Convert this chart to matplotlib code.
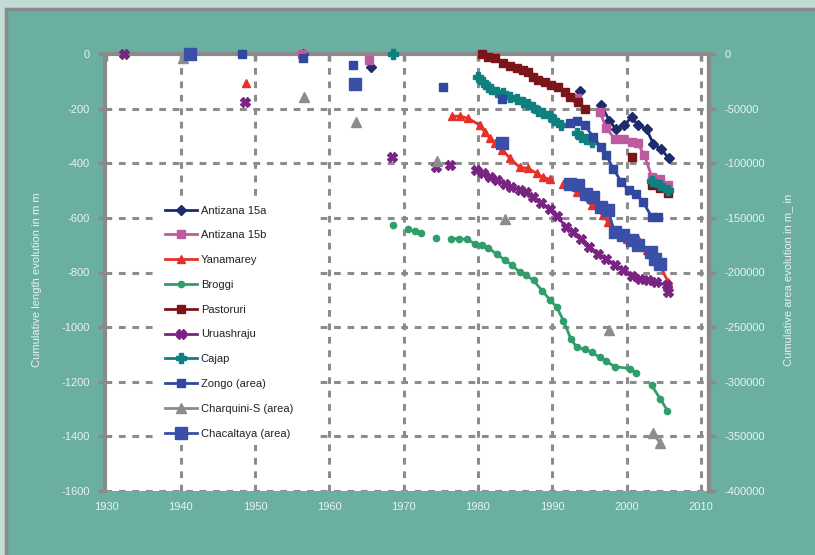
import numpy as np
import matplotlib
matplotlib.use("Agg")
import matplotlib.pyplot as plt
from matplotlib.patches import Rectangle

plt.rcParams["font.family"] = ["Liberation Sans", "DejaVu Sans"]

nan = np.nan

# ---- data (length series, m) ----
antizana15a_x = [1956.4, nan, 1965.6, nan, 1993.7, nan, 1996.6, 1997.7, 1998.6, 1999.7, 2000.7, 2001.5, 2002.7, 2003.6, 2004.7, 2005.7]
antizana15a_y = [0, nan, -47, nan, -134, nan, -186, -244, -275, -260, -229, -260, -274, -329, -349, -382]

antizana15b_x = [1956.3, nan, 1965.3, nan, 1993.3, nan, 1996.4, 1997.3, 1998.5, 1999.5, 2000.7, 2001.5, 2002.4, 2003.4, 2004.5, 2005.6]
antizana15b_y = [0, nan, -21, nan, -162, nan, -211, -272, -312, -311, -321, -327, -370, -449, -459, -480]

yanamarey_x = [1948.8, nan, 1976.5, 1977.6, 1978.6, 1980.3, 1980.9, 1981.6, 1982.3, 1983.3, 1984.3, 1985.6, 1986.7, 1987.9, 1988.7, 1989.7, nan,
               1991.5, 1993.3, 1995.3, 1996.8, 1997.5, 1998.6, 2000.0, 2001.5, 2002.7, 2003.6, 2004.5, 2005.6]
yanamarey_y = [-106, nan, -227, -227, -234, -260, -285, -307, -326, -351, -381, -414, -418, -436, -451, -458, nan,
               -474, -505, -553, -590, -615, -657, -676, -676, -719, -743, -774, -835]

broggi_x = [1968.6, nan, 1970.6, 1971.5, 1972.4, nan, 1974.4, nan, 1976.4, 1977.5, 1978.5, 1979.6, 1980.5, 1981.4, 1982.5, 1983.6, 1984.6,
            1985.6, 1986.5, 1987.5, 1988.6, 1989.7, 1990.6, 1991.5, 1992.5, 1993.3, 1994.4, 1995.3, 1996.4, 1997.3, 1998.4,
            2000.4, 2001.3, nan, 2003.4, 2004.5, 2005.5]
broggi_y = [-627, nan, -642, -649, -654, nan, -672, nan, -676, -676, -679, -694, -700, -709, -733, -753, -774,
            -798, -810, -829, -866, -900, -927, -976, -1043, -1074, -1082, -1093, -1111, -1126, -1145,
            -1152, -1167, nan, -1214, -1262, -1306]

pastoruri_x = [1980.5, 1981.4, 1982.3, 1983.4, 1984.3, 1985.2, 1986.1, 1986.7, 1987.4, 1988.1, 1989.0, 1989.9, 1990.8, 1991.7,
               1992.4, 1993.5, 1994.4, nan, 2000.7, nan, 2003.4, 2004.5, 2005.6]
pastoruri_y = [0, -9, -15, -33, -43, -51, -58, -66, -82, -94, -101, -113, -119, -137,
               -156, -174, -202, nan, -378, nan, -480, -492, -510]

uruashraju_x = [1932.3, nan, 1948.6, nan, 1968.4, nan, 1974.3, nan, 1976.3, nan,
                1979.8, 1980.7, 1981.6, 1982.5, 1983.6, 1984.5, 1985.6, 1986.5, 1987.4, 1988.5, 1989.7, 1990.6, 1991.9,
                1992.8, 1993.9, 1995.0, 1996.2, 1997.3, 1998.4, 1999.5, 2000.7, 2001.8, 2002.9, 2004.0, 2005.4, 2005.6]
uruashraju_y = [0, nan, -176, nan, -378, nan, -414, nan, -407, nan,
                -425, -437, -450, -462, -474, -486, -496, -505, -523, -547, -569, -594, -633,
                -651, -676, -707, -731, -749, -774, -792, -811, -823, -829, -835, -847, -872]

cajap_x = [1968.5, nan, 1980.0, 1980.7, 1981.4, 1981.8, 1982.5, 1983.4, 1984.3, 1985.2, 1986.1, 1986.7, 1987.4, 1988.1, 1988.8,
           1989.7, 1990.3, 1991.2, nan, 1993.3, 1993.9, 1994.6, 1995.3, nan, 2003.4, 2004.5, 2005.6]
cajap_y = [0, nan, -82, -101, -119, -129, -137, -143, -156, -165, -174, -184, -192, -207, -217,
           -227, -241, -260, nan, -288, -303, -312, -321, nan, -464, -480, -498]

# ---- data (area series, m2) ----
zongo_x = [1948.3, nan, 1956.4, nan, 1963.2, nan, 1975.3, nan, 1983.3, nan,
           1992.4, 1993.3, 1994.4, 1995.5, 1996.5, 1997.3, 1998.2, 1999.3, 2000.3, 2001.3, 2002.2, 2003.4, 2004.2]
zongo_y = [0, nan, -3700, nan, -10000, nan, -30000, nan, -41000, nan,
           -63300, -61000, -65000, -75700, -84800, -92500, -104700, -117000, -124600, -127600, -135300, -149100, -149100]

charquini_x = [1940.3, nan, 1956.6, nan, 1963.6, nan, 1974.5, nan, 1983.6, nan, 1997.6, nan, 2003.5, 2004.5]
charquini_y = [-3000, nan, -39000, nan, -62000, nan, -98000, nan, -151000, nan, -253000, nan, -347000, -356000]

chacaltaya_x = [1941.2, nan, 1963.4, nan, 1983.3, nan,
                1992.4, 1993.5, 1994.6, 1995.5, 1996.5, 1997.5, 1998.4, 1999.5, 2000.7, 2001.5, 2003.3, 2003.8, 2004.5]
chacaltaya_y = [0, nan, -27500, nan, -81500, nan,
                -118500, -120000, -127600, -130700, -139900, -143000, -162900, -165900, -170500, -175100, -181200, -187300, -191900]

x_ticks = [1930, 1940, 1950, 1960, 1970, 1980, 1990, 2000, 2010]
y_ticks = [0, -200, -400, -600, -800, -1000, -1200, -1400, -1600]
y2_ticks = [0, -50000, -100000, -150000, -200000, -250000, -300000, -350000, -400000]

# ---- figure ----
W, H = 815, 555
fig = plt.figure(figsize=(W / 100, H / 100), dpi=100, facecolor="#c2dcd5")
bg = Rectangle((5.5 / W, -0.02), 1.1, (H - 8.5) / H + 0.02, transform=fig.transFigure,
               facecolor="#6aafa2", edgecolor="#8a8a8a", linewidth=2.5, zorder=-10)
fig.patches.append(bg)

ax = fig.add_axes([105 / W, 1 - 490.7 / H, (709 - 105) / W, (490.7 - 54.3) / H])
ax.set_zorder(1)
ax.set_facecolor("white")
ax.set_xlim(1929.8, 2011.1)
ax.set_ylim(-1600, 0)

grid_kw = dict(color="#8c8c8c", linewidth=2.2, linestyle=(0, (2.2, 2.2)), zorder=1)
for yt in y_ticks[1:]:
    ax.axhline(yt, **grid_kw)
for xt in x_ticks[1:]:
    ax.axvline(xt, **grid_kw)

# white box behind the legend hides the grid there
ax.add_patch(Rectangle((156 / W, 1 - 445 / H), (315 - 156) / W, (445 - 197) / H,
                       transform=fig.transFigure, facecolor="white", edgecolor="none", zorder=1.5))

ax.spines["bottom"].set_visible(False)
for s in ["left", "right", "top"]:
    ax.spines[s].set_color("#8a8a8a")
    ax.spines[s].set_linewidth(3)

txtc = "#e8f3f0"
fs = 8
ax.set_xticks(x_ticks)
ax.set_xticklabels([str(t) for t in x_ticks])
ax.tick_params(axis="x", top=True, bottom=False, labeltop=False, labelbottom=True, direction="in",
               length=5, width=2.5, color="#8a8a8a", labelsize=fs, labelcolor=txtc, pad=8)
ax.set_yticks(y_ticks)
ax.set_yticklabels([str(t) for t in y_ticks])
ax.tick_params(axis="y", direction="out", length=5, width=2.5, color="#8a8a8a",
               labelsize=fs, labelcolor=txtc, pad=6)
ax.set_ylabel("Cumulative length evolution in m m", color=txtc, fontsize=fs)
ax.yaxis.set_label_coords(-0.105, 0.483)

ax2 = ax.twinx()
ax2.set_zorder(2)
ax2.patch.set_visible(False)
ax2.set_ylim(-400000, 0)
ax2.set_yticks(y2_ticks)
ax2.set_yticklabels([str(t) for t in y2_ticks])
ax2.tick_params(axis="y", direction="out", length=5, width=2.5, color="#8a8a8a",
                labelsize=fs, labelcolor=txtc, pad=6)
for s in ["left", "top", "bottom"]:
    ax2.spines[s].set_visible(False)
ax2.spines["right"].set_color("#8a8a8a")
ax2.spines["right"].set_linewidth(3)
ax2.set_ylabel("Cumulative area evolution in m_ in", color=txtc, fontsize=fs)
ax2.yaxis.set_label_coords(1.122, 0.483)

handles = []
def pl(a, x, y, label, color, marker, ms, lw=2.0, **kw):
    h, = a.plot(x, y, color=color, marker=marker, markersize=ms, linewidth=lw,
                label=label, zorder=3, clip_on=False, **kw)
    handles.append(h)

pl(ax, antizana15a_x, antizana15a_y, "Antizana 15a", "#1e2b6c", "D", 5.5)
pl(ax, antizana15b_x, antizana15b_y, "Antizana 15b", "#c05a9f", "s", 5.5)
pl(ax, yanamarey_x, yanamarey_y, "Yanamarey", "#e8302a", "^", 5.5)
pl(ax, broggi_x, broggi_y, "Broggi", "#2f9e6b", "o", 4.5)
pl(ax, pastoruri_x, pastoruri_y, "Pastoruri", "#7c1518", "s", 6)
pl(ax, uruashraju_x, uruashraju_y, "Uruashraju", "#7a2382", "X", 7)
pl(ax, cajap_x, cajap_y, "Cajap", "#0f7f80", "P", 7)
pl(ax2, zongo_x, zongo_y, "Zongo (area)", "#3048a0", "s", 6)
pl(ax2, charquini_x, charquini_y, "Charquini-S (area)", "#8c8c8c", "^", 6.5)
pl(ax2, chacaltaya_x, chacaltaya_y, "Chacaltaya (area)", "#3a4fa8", "s", 8)

leg = ax2.legend(handles=handles, loc="upper left", bbox_to_anchor=(159 / W, 1 - 200 / H),
                 bbox_transform=fig.transFigure, frameon=False, fontsize=fs,
                 labelspacing=1.33, handlelength=2.95, handletextpad=0.3, borderpad=0)
for t in leg.get_texts():
    t.set_color("#222222")

fig.savefig("out.png", dpi=100, facecolor=fig.get_facecolor())
